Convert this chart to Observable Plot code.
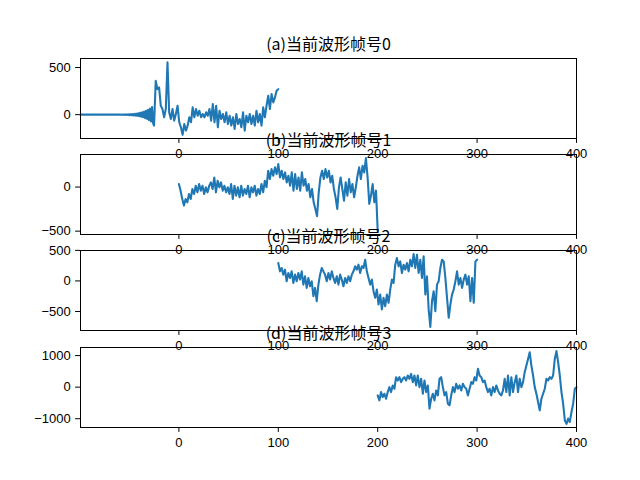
<!DOCTYPE html>
<html><head><meta charset="utf-8">
<script src="https://cdn.jsdelivr.net/npm/d3@7"></script>
<script src="https://cdn.jsdelivr.net/npm/@observablehq/plot@0.6"></script>
<style>
body{margin:0;background:#fff;}
#fig{position:relative;width:640px;height:480px;overflow:hidden;background:#fff;}
#fig svg{position:absolute;left:0;overflow:visible;}
</style></head><body><div id="fig"></div>
<script>
const titles = ["(a)当前波形帧号0", "(b)当前波形帧号1", "(c)当前波形帧号2", "(d)当前波形帧号3"];
const xTicks = [0, 100, 200, 300, 400];
const yTicks = [[0, 500], [-500, 0], [-500, 0, 500], [-1000, 0, 1000]];
const yDomains = [[-253, 596], [-538, 369], [-811, 498], [-1278, 1256]];
const xDomain = [-99, 400];
const axesTops = [58, 154, 250, 347];

// frame 0 lead-in (unit spacing from x=-99 to -26): silence then ringing
const frame0LeadStart = -99;
const frame0Lead = [0,0,0,0,0,0,0,0,0,0,0,0,0,0,0,0,0,0,0,0,0,0,0,0,0,0,0,0,0,0,0,0,0,0,0,0,0,0,0,0,
  1,-1,2,-2,2,-3,3,-4,4,-5,5,-6,7,-8,9,-10,11,-13,15,-17,19,-22,25,-28,32,-36,41,-46,52,-58,65,-72,80,-90];
const frameRanges = [[-25, 100], [0, 200], [100, 300], [200, 400]];
const frame0 = [-116,359,271,289,95,60,-28,60,557,25,
  -46,60,-63,7,95,-81,-134,-214,-99,-169,
  -116,-28,-81,77,-28,60,-11,42,-28,7,
  -28,25,-11,60,-63,113,-81,95,-134,42,
  -46,7,-81,25,-99,-11,-116,-28,-151,7,
  -99,-46,-134,25,-169,-11,-81,7,-99,-11,
  -116,42,-81,7,-116,77,-28,95,201,60,
  218,130,183,253,271];
const frame1 = [34,-41,-135,-210,-135,-173,-79,-135,-22,-79,
  15,-60,34,-41,15,-79,-3,-60,15,53,
  -22,109,-60,72,-3,53,-41,15,-60,-3,
  -79,34,-135,15,-97,-3,-116,15,-97,-22,
  -79,15,-116,-3,-60,15,-97,-22,-79,34,
  -60,72,-3,185,91,203,128,223,147,260,
  109,185,91,166,53,128,15,166,-41,147,
  -22,109,-41,166,15,91,-41,34,-116,-22,
  -173,-248,-330,-60,109,185,91,203,109,185,
  53,128,-22,-116,-248,-3,109,-22,-154,53,
  -97,91,-60,34,-116,-3,128,223,91,241,
  166,328,109,-191,-97,34,-173,-41,-497];
const frame2 = [293,157,212,103,185,-5,130,49,157,-33,
  103,-5,130,22,157,-60,76,-114,49,-87,
  -5,-250,-114,-331,-60,103,212,157,103,-5,
  130,22,157,49,-33,76,-60,103,22,-87,
  49,-33,76,-5,103,157,239,185,266,130,
  239,212,347,157,49,-60,22,-168,-277,-141,
  -386,-223,-467,-277,-413,-223,-358,-141,22,-33,
  266,375,239,320,130,266,185,293,157,347,
  239,439,212,429,130,347,49,402,-223,76,
  -467,-752,-331,-168,-494,-60,-5,212,347,320,
  49,-277,-603,-386,-223,-141,-5,157,-60,49,
  -114,22,103,-60,76,-331,49,-358,320,347];
const frame3 = [-261,-419,-156,-314,-209,-366,-156,1,-156,54,
  -51,316,211,316,159,264,316,211,369,264,
  421,159,369,54,369,1,264,-209,211,-156,
  54,-681,-366,-209,-419,-104,-261,264,316,1,
  -261,-156,-524,-576,-261,1,-156,106,-51,54,
  -104,106,1,-51,-261,-51,159,106,316,211,
  579,369,316,159,211,1,-156,-51,-261,1,
  -156,54,-104,-209,-261,-104,264,-156,369,-261,
  316,-156,159,369,-156,264,1,159,474,684,
  894,1104,684,369,1,-209,-471,-734,-366,-209,
  -51,264,211,316,264,369,894,1141,789,369,
  -156,-524,-1049,-1163,-996,-1101,-786,-524,-51,1];

const series = [frame0, frame1, frame2, frame3];
function points(k) {
  const vals = series[k];
  const [a, b] = frameRanges[k];
  const pts = vals.map((v, i) => ({x: a + i * (b - a) / (vals.length - 1), y: v}));
  if (k === 0) {
    const lead = frame0Lead.map((v, i) => ({x: frame0LeadStart + i, y: v}));
    return lead.concat(pts);
  }
  return pts;
}
const fmt = d => d < 0 ? "\u2212" + (-d) : String(d);
const fig = document.getElementById("fig");
const mt = 40, mb = 30, axH = 80;
for (let k = 0; k < 4; k++) {
  const chart = Plot.plot({
    width: 640,
    height: mt + axH + mb,
    marginLeft: 80,
    marginRight: 64,
    marginTop: mt,
    marginBottom: mb,
    style: {background: "transparent", overflow: "visible", fontSize: "13px", fontFamily: "Liberation Sans, Arial, sans-serif", color: "#000"},
    x: {domain: xDomain, ticks: xTicks, tickSize: 4.9, tickPadding: 4.9, label: null, tickFormat: fmt},
    y: {domain: yDomains[k], ticks: yTicks[k], tickSize: 4.9, tickPadding: 4.9, label: null, tickFormat: fmt},
    marks: [
      Plot.line(points(k), {x: "x", y: "y", stroke: "#1f77b4", strokeWidth: 2.08}),
      Plot.frame({stroke: "#000", strokeWidth: 1}),
      Plot.text([titles[k]], {frameAnchor: "top", dy: -8.3, lineAnchor: "bottom", text: d => d, fontSize: 16, fontFamily: "Noto Sans CJK SC", fill: "#000"})
    ]
  });
  chart.style.top = (axesTops[k] - mt) + "px";
  fig.appendChild(chart);
}
</script></body></html>
